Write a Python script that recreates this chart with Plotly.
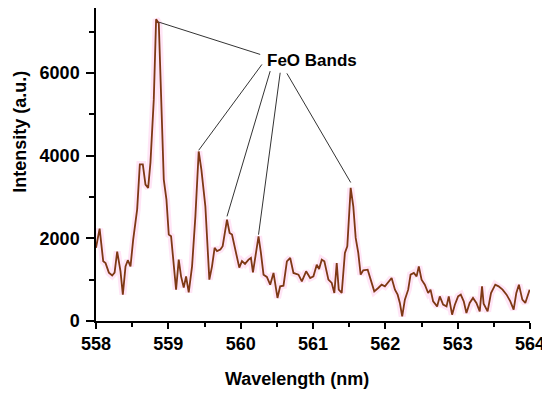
import plotly.graph_objects as go

wavelength = [
    558.000, 558.050, 558.100, 558.132, 558.178, 558.224, 558.257, 558.293, 558.339, 558.371,
    558.408, 558.440, 558.477, 558.514, 558.569, 558.606, 558.647, 558.684, 558.721, 558.753,
    558.799, 558.831, 558.868, 558.905, 558.937, 558.974, 559.006, 559.038, 559.075, 559.107,
    559.144, 559.176, 559.213, 559.245, 559.282, 559.328, 559.374, 559.420, 559.457, 559.512,
    559.567, 559.604, 559.640, 559.673, 559.719, 559.751, 559.811, 559.847, 559.880, 559.935,
    559.981, 560.018, 560.060, 560.109, 560.142, 560.170, 560.247, 560.280, 560.316, 560.362,
    560.408, 560.454, 560.509, 560.546, 560.592, 560.639, 560.685, 560.730, 560.799, 560.846,
    560.905, 560.961, 561.006, 561.052, 561.084, 561.121, 561.157, 561.213, 561.259, 561.295,
    561.328, 561.356, 561.397, 561.441, 561.474, 561.521, 561.557, 561.590, 561.626, 561.659,
    561.695, 561.756, 561.801, 561.847, 561.902, 561.949, 561.994, 562.040, 562.087, 562.133,
    562.170, 562.201, 562.233, 562.270, 562.316, 562.349, 562.394, 562.432, 562.463, 562.501,
    562.546, 562.592, 562.625, 562.661, 562.716, 562.753, 562.799, 562.846, 562.877, 562.923,
    562.961, 563.006, 563.043, 563.084, 563.121, 563.166, 563.212, 563.259, 563.305, 563.337,
    563.359, 563.414, 563.461, 563.520, 563.566, 563.621, 563.676, 563.728, 563.774, 563.811,
    563.847, 563.894, 563.935, 563.995,
]
intensity = [
    1770, 2235, 1443, 1400, 1170, 1100, 1170, 1680, 1200, 637,
    1322, 1470, 1322, 1968, 2700, 3786, 3786, 3300, 3220, 3837,
    5360, 7300, 7200, 5360, 3420, 2935, 2090, 2050, 1410, 760,
    1485, 1080, 807, 1080, 690, 1322, 2530, 4100, 3660, 2770,
    1000, 1322, 1770, 1690, 1730, 1810, 2450, 2130, 2090, 1605,
    1290, 1450, 1380, 1484, 1525, 1177, 2048, 1646, 1121, 1065,
    879, 1162, 557, 838, 855, 1443, 1525, 1162, 1121, 959,
    1201, 1041, 1080, 1363, 1258, 1484, 1443, 1000, 920, 678,
    1404, 758, 678, 1646, 1806, 3220, 2775, 2010, 1646, 1121,
    1225, 1242, 959, 717, 799, 879, 838, 935, 1041, 758,
    637, 436, 111, 516, 758, 1121, 1162, 1080, 1322, 1000,
    879, 678, 758, 474, 353, 596, 395, 353, 596, 153,
    395, 596, 637, 474, 194, 436, 557, 436, 232, 838,
    419, 232, 678, 879, 838, 758, 637, 474, 274, 678,
    879, 516, 436, 758,
]

x_ticks = [558, 559, 560, 561, 562, 563, 564]
y_ticks = [0, 2000, 4000, 6000]
band_label = "FeO Bands"
band_peaks = [558.831, 559.420, 559.811, 560.247, 561.521]

FONT = "Arial, Liberation Sans, sans-serif"

# page body has an 8px margin: figure is sized/placed to compensate
W, H = 542, 385
ML, MR, MT, MB = 88, 20, 0, 72
PW, PH = W - ML - MR, H - MT - MB

fig = go.Figure()
fig.add_trace(go.Scatter(x=wavelength, y=intensity, mode="lines",
                         line=dict(color="rgba(255,170,225,0.30)", width=7),
                         hoverinfo="skip", showlegend=False))
fig.add_trace(go.Scatter(x=wavelength, y=intensity, mode="lines",
                         line=dict(color="#7E3814", width=1.8),
                         showlegend=False))

starts = [(560.270, 6447), (560.294, 6205), (560.408, 6043), (560.546, 6004), (560.639, 5989)]
offsets = [(0.035, -70), (0, 30), (0, 80), (0, 40), (0, 130)]
for (sx, sy), px, (dx, dy) in zip(starts, band_peaks, offsets):
    py = intensity[wavelength.index(px)]
    fig.add_shape(type="line", x0=sx, y0=sy, x1=px + dx, y1=py + dy,
                  xref="x", yref="y", line=dict(color="#333333", width=1))

fig.add_annotation(x=560.988, y=6301, xref="x", yref="y", text=band_label,
                   showarrow=False, font=dict(family=FONT, size=17, color="black", weight="bold"))

fig.add_annotation(x=(289 - ML) / PW, y=-(371 - (MT + PH)) / PH, xref="paper", yref="paper",
                   text="Wavelength (nm)", showarrow=False, yanchor="middle",
                   font=dict(family=FONT, size=18, color="black", weight="bold"))
fig.add_annotation(x=-(ML - 12) / PW, y=((MT + PH) - 123.7) / PH, xref="paper", yref="paper",
                   text="Intensity (a.u.)", showarrow=False, textangle=-90,
                   xanchor="center", yanchor="middle",
                   font=dict(family=FONT, size=18, color="black", weight="bold"))

fig.update_xaxes(range=[558, 564], tickvals=x_ticks, ticktext=[str(v) for v in x_ticks],
                 ticks="outside", ticklen=6, tickwidth=1.5, tickcolor="black",
                 minor=dict(ticks="outside", ticklen=4, tickwidth=1.5, tickcolor="black", dtick=0.5, tick0=558),
                 showline=True, linecolor="black", linewidth=1.5, showgrid=False, zeroline=False,
                 tickfont=dict(family=FONT, size=18, color="black", weight="bold"))
fig.update_yaxes(range=[0, 7570], tickvals=y_ticks, ticktext=[str(v) for v in y_ticks],
                 ticks="outside", ticklen=8, tickwidth=1.5, tickcolor="black",
                 minor=dict(ticks="outside", ticklen=5, tickwidth=1.5, tickcolor="black", dtick=1000, tick0=0),
                 showline=True, linecolor="black", linewidth=1.5, showgrid=False, zeroline=False,
                 ticklabelstandoff=3,
                 tickfont=dict(family=FONT, size=18, color="black", weight="bold"))

fig.update_layout(width=W, height=H, autosize=False,
                  margin=dict(l=ML, r=MR, t=MT, b=MB, pad=0),
                  plot_bgcolor="white", paper_bgcolor="white")

fig.write_html("out.html")
